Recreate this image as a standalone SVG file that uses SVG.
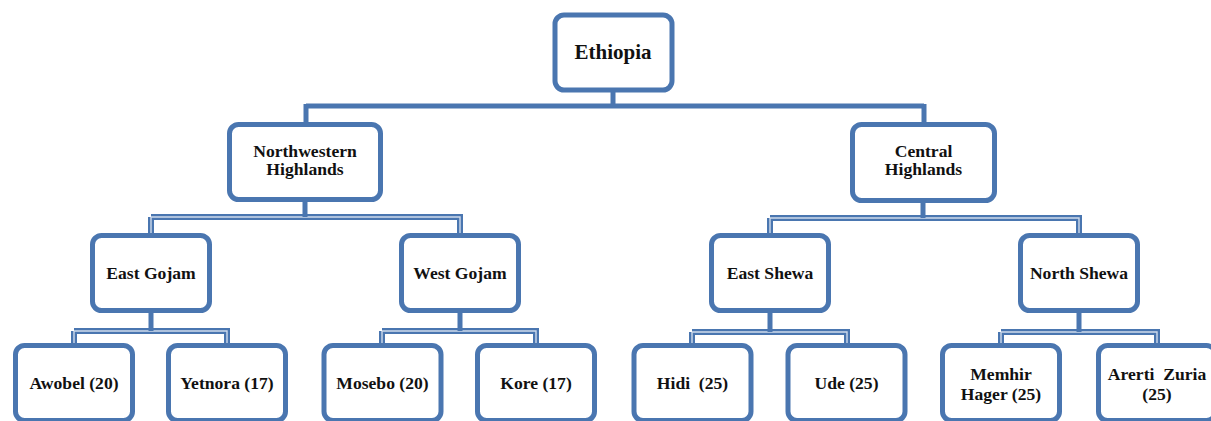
<svg xmlns="http://www.w3.org/2000/svg" width="1211" height="421" viewBox="0 0 1211 421">
<style>
.box{fill:#fff;stroke:#4a76b0;stroke-width:5}
.lbl{font-family:"Liberation Serif","Times New Roman",serif;font-weight:bold;font-size:17.6px;fill:#111;text-anchor:middle}
.c{fill:none;stroke:#4a76b0;stroke-width:5}
.co{fill:none;stroke:#4a76b0;stroke-width:6}
.ci{fill:none;stroke:#cfdbec;stroke-width:1.4}
</style>
<rect width="1211" height="421" fill="#fff"/>
<g id="connectors">
<path class="c" d="M613,92V106M306,106H924M306,104V123M924,104V123"/>
<path class="co" d="M151,217H460V233M151,217V233M770,218H1079V233M770,218V233"/>
<path class="ci" d="M151,217H460V233M151,217V233M770,218H1079V233M770,218V233"/>
<path class="c" d="M305,202V217M923,203V218"/>
<path class="co" d="M74,331H227V344M74,331V344M382,331H536V344M382,331V344M692,332H847V344M692,332V344M1001,332H1157V344M1001,332V344"/>
<path class="ci" d="M74,331H227V344M74,331V344M382,331H536V344M382,331V344M692,332H847V344M692,332V344M1001,332H1157V344M1001,332V344"/>
<path class="c" d="M151,313V331M460,313V331M770,313V332M1079,313V332"/>
</g>
<g id="ethiopia"><rect class="box" x="555" y="15" width="117" height="75" rx="9"/><text class="lbl" x="613" y="59" style="font-size:21px">Ethiopia</text></g>
<g id="nw-highlands"><rect class="box" x="229.5" y="124.5" width="151" height="75" rx="9"/><text class="lbl" x="305" y="157">Northwestern</text><text class="lbl" x="305" y="175">Highlands</text></g>
<g id="central-highlands"><rect class="box" x="852.5" y="124.5" width="142" height="76" rx="9"/><text class="lbl" x="923.5" y="157">Central</text><text class="lbl" x="923.5" y="175">Highlands</text></g>
<g id="east-gojam"><rect class="box" x="92.5" y="235.5" width="117" height="75" rx="9"/><text class="lbl" x="151" y="279">East Gojam</text></g>
<g id="west-gojam"><rect class="box" x="401.5" y="235.5" width="117" height="75" rx="9"/><text class="lbl" x="460" y="279">West Gojam</text></g>
<g id="east-shewa"><rect class="box" x="711.5" y="235.5" width="117" height="75" rx="9"/><text class="lbl" x="770" y="279">East Shewa</text></g>
<g id="north-shewa"><rect class="box" x="1020.5" y="235.5" width="117" height="75" rx="9"/><text class="lbl" x="1079" y="279">North Shewa</text></g>
<g id="awobel"><rect class="box" x="15.5" y="345.5" width="117" height="75" rx="9"/><text class="lbl" x="74" y="389">Awobel (20)</text></g>
<g id="yetnora"><rect class="box" x="168.5" y="345.5" width="117" height="75" rx="9"/><text class="lbl" x="227" y="389">Yetnora (17)</text></g>
<g id="mosebo"><rect class="box" x="324" y="345.5" width="117" height="75" rx="9"/><text class="lbl" x="382.5" y="389">Mosebo (20)</text></g>
<g id="kore"><rect class="box" x="477.5" y="345.5" width="117" height="75" rx="9"/><text class="lbl" x="536" y="389">Kore (17)</text></g>
<g id="hidi"><rect class="box" x="634" y="345.5" width="117" height="75" rx="9"/><text class="lbl" x="692.5" y="389" xml:space="preserve">Hidi  (25)</text></g>
<g id="ude"><rect class="box" x="788" y="345.5" width="117" height="75" rx="9"/><text class="lbl" x="846.5" y="389">Ude (25)</text></g>
<g id="memhir-hager"><rect class="box" x="942.5" y="345.5" width="117" height="75" rx="9"/><text class="lbl" x="1001" y="380">Memhir</text><text class="lbl" x="1001" y="400">Hager (25)</text></g>
<g id="arerti-zuria"><rect class="box" x="1098.5" y="345.5" width="117" height="75" rx="9"/><text class="lbl" x="1157" y="380" xml:space="preserve">Arerti  Zuria</text><text class="lbl" x="1157" y="400">(25)</text></g>
</svg>
